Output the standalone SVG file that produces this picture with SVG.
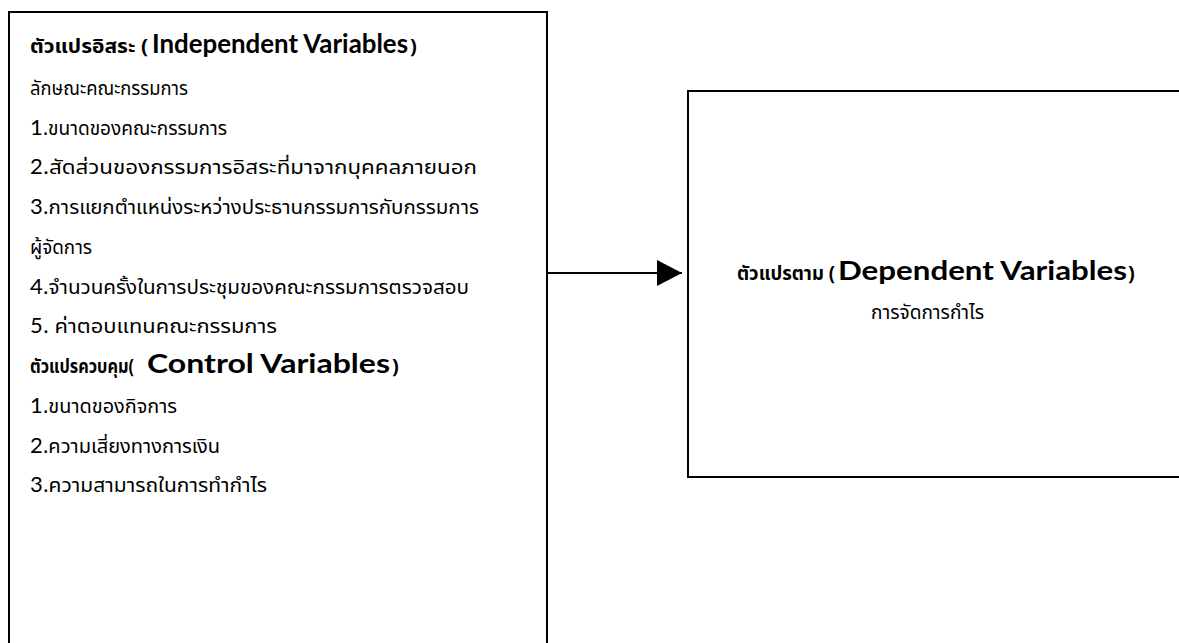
<svg xmlns="http://www.w3.org/2000/svg" width="1179" height="643" viewBox="0 0 1179 643">
<defs>
<style>
.box{fill:#fff;stroke:#000;stroke-width:2}
.th{font-family:"Noto Sans Thai","Tahoma","Noto Sans","DejaVu Sans",sans-serif;font-size:19px;fill:#000}
.thb{font-family:"Noto Sans Thai","Tahoma","Noto Sans","DejaVu Sans",sans-serif;font-size:20px;font-weight:bold;fill:#000}
.en{font-family:"Lato","Open Sans",sans-serif;font-size:26px;font-weight:bold;fill:#000}
.num{font-family:"Lato","Open Sans",sans-serif;font-size:22px;fill:#000}
.conn{stroke:#000;stroke-width:2;fill:none}
</style>
<marker id="arrow" markerWidth="25" markerHeight="26" refX="25" refY="13" orient="auto" markerUnits="userSpaceOnUse">
<path d="M0,0 L25,13 L0,26 Z" fill="#000"/>
</marker>
</defs>
<rect width="1179" height="643" fill="#fff"/>
<g id="independent">
<rect class="box" x="9" y="12" width="538" height="645"/>
<text class="thb" x="30" y="53" textLength="118" lengthAdjust="spacingAndGlyphs">ตัวแปรอิสระ (</text>
<text class="en" x="152" y="53" textLength="256" lengthAdjust="spacingAndGlyphs">Independent Variables</text>
<text class="thb" x="410" y="53">)</text>
<text class="th" x="30" y="95" textLength="158" lengthAdjust="spacingAndGlyphs">ลักษณะคณะกรรมการ</text>
<text class="num" x="30" y="135">1</text>
<text class="th" x="43" y="135" textLength="184" lengthAdjust="spacingAndGlyphs">.ขนาดของคณะกรรมการ</text>
<text class="num" x="30" y="174">2</text>
<text class="th" x="43" y="174" textLength="434" lengthAdjust="spacingAndGlyphs">.สัดส่วนของกรรมการอิสระที่มาจากบุคคลภายนอก</text>
<text class="num" x="30" y="214">3</text>
<text class="th" x="43" y="214" textLength="436" lengthAdjust="spacingAndGlyphs">.การแยกตำแหน่งระหว่างประธานกรรมการกับกรรมการ</text>
<text class="th" x="30" y="254" textLength="62" lengthAdjust="spacingAndGlyphs">ผู้จัดการ</text>
<text class="num" x="30" y="294">4</text>
<text class="th" x="43" y="294" textLength="426" lengthAdjust="spacingAndGlyphs">.จำนวนครั้งในการประชุมของคณะกรรมการตรวจสอบ</text>
<text class="num" x="30" y="333">5</text>
<text class="th" x="43" y="333" textLength="234" lengthAdjust="spacingAndGlyphs">. ค่าตอบแทนคณะกรรมการ</text>
<text class="thb" x="30" y="373" textLength="104" lengthAdjust="spacingAndGlyphs">ตัวแปรควบคุม(</text>
<text class="en" x="147" y="373" textLength="243" lengthAdjust="spacingAndGlyphs">Control Variables</text>
<text class="thb" x="392" y="373">)</text>
<text class="num" x="30" y="413">1</text>
<text class="th" x="43" y="413" textLength="134" lengthAdjust="spacingAndGlyphs">.ขนาดของกิจการ</text>
<text class="num" x="30" y="453">2</text>
<text class="th" x="43" y="453" textLength="177" lengthAdjust="spacingAndGlyphs">.ความเสี่ยงทางการเงิน</text>
<text class="num" x="30" y="492">3</text>
<text class="th" x="43" y="492" textLength="224" lengthAdjust="spacingAndGlyphs">.ความสามารถในการทำกำไร</text>
</g>
<g id="dependent">
<rect class="box" x="688" y="91" width="500" height="386"/>
<text class="thb" x="737" y="280" textLength="98" lengthAdjust="spacingAndGlyphs">ตัวแปรตาม (</text>
<text class="en" x="838" y="280" textLength="289" lengthAdjust="spacingAndGlyphs">Dependent Variables</text>
<text class="thb" x="1128" y="280">)</text>
<text class="th" x="871" y="319" textLength="113" lengthAdjust="spacingAndGlyphs">การจัดการกำไร</text>
</g>
<g id="connectors">
<line class="conn" x1="547" y1="273" x2="682" y2="273" marker-end="url(#arrow)"/>
</g>
</svg>
